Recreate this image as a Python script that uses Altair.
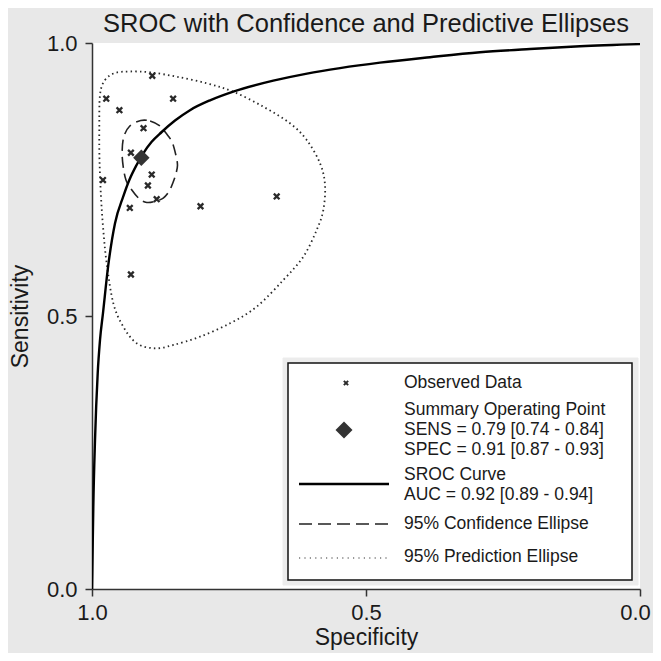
import altair as alt
import pandas as pd

title_text = "SROC with Confidence and Predictive Ellipses"
x_title = "Specificity"
y_title = "Sensitivity"
tick_values = [1.0, 0.5, 0.0]

# Observed studies
obs_spec = [0.890, 0.974, 0.852, 0.950, 0.906, 0.929, 0.980, 0.891, 0.898, 0.882, 0.931, 0.802, 0.663, 0.929]
obs_sens = [0.940, 0.898, 0.898, 0.877, 0.844, 0.799, 0.749, 0.759, 0.739, 0.714, 0.698, 0.701, 0.719, 0.576]

# Summary operating point
sum_spec = [0.91]
sum_sens = [0.79]

# SROC curve
sroc_spec = [1.0000, 0.9995, 0.9976, 0.9945, 0.9896, 0.9854, 0.9800, 0.9703, 0.9580, 0.9429,
             0.9319, 0.9184, 0.9064, 0.8911, 0.8728, 0.8485, 0.8212, 0.7847, 0.7422, 0.6692,
             0.6077, 0.5474, 0.4745, 0.3832, 0.2920, 0.2007, 0.1095, 0.0000]
sroc_sens = [0.000, 0.029, 0.151, 0.273, 0.395, 0.456, 0.505, 0.593, 0.670, 0.719,
             0.749, 0.777, 0.798, 0.819, 0.837, 0.858, 0.877, 0.895, 0.911, 0.931,
             0.944, 0.954, 0.964, 0.974, 0.983, 0.989, 0.994, 0.998]

# 95% confidence ellipse
conf_spec = [0.911, 0.894, 0.876, 0.865, 0.854, 0.847, 0.844, 0.847, 0.852, 0.859,
             0.870, 0.885, 0.900, 0.914, 0.929, 0.938, 0.943, 0.945, 0.942, 0.931]
conf_sens = [0.858, 0.857, 0.848, 0.835, 0.819, 0.795, 0.776, 0.760, 0.745, 0.729,
             0.716, 0.710, 0.708, 0.715, 0.733, 0.749, 0.773, 0.800, 0.828, 0.848]

# 95% prediction ellipse
pred_spec = [0.9854, 0.9763, 0.9580, 0.9307, 0.8942, 0.8454, 0.7907, 0.7422, 0.6874, 0.6387,
             0.6082, 0.5839, 0.5748, 0.5779, 0.5900, 0.6144, 0.6509, 0.6995, 0.7482, 0.8029,
             0.8516, 0.8850, 0.9184, 0.9429, 0.9611, 0.9732, 0.9794, 0.9836, 0.9863, 0.9867]
pred_sens = [0.9048, 0.9322, 0.9451, 0.9478, 0.9463, 0.9383, 0.9262, 0.9108, 0.8833, 0.8529,
             0.8223, 0.7797, 0.7399, 0.6941, 0.6575, 0.6086, 0.5659, 0.5170, 0.4866, 0.4621,
             0.4469, 0.4408, 0.4500, 0.4804, 0.5233, 0.5965, 0.6575, 0.7185, 0.7857, 0.8407]

legend_labels = [
    "Observed Data",
    "Summary Operating Point",
    "SENS = 0.79 [0.74 - 0.84]",
    "SPEC = 0.91 [0.87 - 0.93]",
    "SROC Curve",
    "AUC = 0.92 [0.89 - 0.94]",
    "95% Confidence Ellipse",
    "95% Prediction Ellipse",
]

FONT = "Liberation Sans"
INK = "#1a1a1a"
CROSS = "M -1 -1 L 1 1 M -1 1 L 1 -1"


def frame(s, t):
    return pd.DataFrame({"spec": s, "sens": t, "i": list(range(len(s)))})


x_enc = alt.X("spec:Q",
              scale=alt.Scale(domain=[1, 0], nice=False, zero=False),
              axis=alt.Axis(values=tick_values, format=".1f", title=x_title, grid=False,
                            labelFlush=False, labelOverlap=False, tickSize=7,
                            labelPadding=6, titlePadding=3,
                            labelOffset={"condition": {"test": "datum.value === 0", "value": -5},
                                         "value": 0}))
y_enc = alt.Y("sens:Q",
              scale=alt.Scale(domain=[0, 1], nice=False, zero=False),
              axis=alt.Axis(values=tick_values, format=".1f", title=y_title, grid=False,
                            labelFlush=False, labelOverlap=False, tickSize=7,
                            labelPadding=8, titlePadding=14))
order_enc = alt.Order("i:Q")

pred = alt.Chart(frame(pred_spec, pred_sens)).mark_line(
    interpolate="cardinal-closed", color="#2a2a2a", strokeWidth=1.8,
    strokeDash=[1.5, 3.2], clip=True
).encode(x=x_enc, y=y_enc, order=order_enc)

conf = alt.Chart(frame(conf_spec, conf_sens)).mark_line(
    interpolate="cardinal-closed", color="#222222", strokeWidth=1.6,
    strokeDash=[11, 6], clip=True
).encode(x=x_enc, y=y_enc, order=order_enc)

sroc = alt.Chart(frame(sroc_spec, sroc_sens)).mark_line(
    interpolate="monotone", color="#000000", strokeWidth=2.4, clip=True
).encode(x=x_enc, y=y_enc, order=order_enc)

obs = alt.Chart(frame(obs_spec, obs_sens)).mark_point(
    shape=CROSS, size=32, strokeWidth=2.3, color="#2a2a2a", filled=False, opacity=1
).encode(x=x_enc, y=y_enc)

summ = alt.Chart(frame(sum_spec, sum_sens)).mark_point(
    shape="diamond", size=270, filled=True, color="#333333", opacity=1
).encode(x=x_enc, y=y_enc)

one = pd.DataFrame({"k": [0]})

title_mark = alt.Chart(one).mark_text(
    align="center", baseline="alphabetic", fontSize=25.5, font=FONT, color=INK,
    text=title_text
).encode(x=alt.value(274), y=alt.value(-11))

legend_band = alt.Chart(one).mark_rect(fill="#ececec", stroke="#ececec").encode(
    x=alt.value(191), x2=alt.value(546), y=alt.value(315), y2=alt.value(542))
legend_box = alt.Chart(one).mark_rect(fill="white", stroke="#111111", strokeWidth=1.5).encode(
    x=alt.value(196), x2=alt.value(540), y=alt.value(320), y2=alt.value(537))

leg_cross = alt.Chart(one).mark_point(
    shape=CROSS, size=18, strokeWidth=2, color="#2a2a2a", filled=False, opacity=1
).encode(x=alt.value(254), y=alt.value(340))
leg_diamond = alt.Chart(one).mark_point(
    shape="diamond", size=290, filled=True, color="#333333", opacity=1
).encode(x=alt.value(252), y=alt.value(387))
leg_solid = alt.Chart(one).mark_rule(color="#000000", strokeWidth=2.4).encode(
    x=alt.value(207), x2=alt.value(297), y=alt.value(441))
leg_dash = alt.Chart(one).mark_rule(color="#222222", strokeWidth=1.6, strokeDash=[13, 6]).encode(
    x=alt.value(207), x2=alt.value(297), y=alt.value(481))
leg_dot = alt.Chart(one).mark_rule(color="#333333", strokeWidth=1.2, strokeDash=[1.2, 4.2]).encode(
    x=alt.value(207), x2=alt.value(297), y=alt.value(515))

text_y = [340, 367.4, 387, 406.6, 432, 452, 481, 514]
leg_texts = [
    alt.Chart(one).mark_text(align="left", baseline="middle", fontSize=17.5, font=FONT,
                             color=INK, text=lab).encode(x=alt.value(312), y=alt.value(yy))
    for lab, yy in zip(legend_labels, text_y)
]

chart = alt.layer(
    pred, conf, sroc, obs, summ, title_mark,
    legend_band, legend_box, leg_cross, leg_diamond, leg_solid, leg_dash, leg_dot,
    *leg_texts
).properties(
    width=548, height=546,
    autosize=alt.AutoSizeParams(type="none"),
    padding={"left": 84, "top": 35, "right": 13, "bottom": 64},
).configure(
    background="#e8e8e8", font=FONT
).configure_view(
    fill="white", strokeWidth=0
).configure_axis(
    domainColor="#333333", domainWidth=1.5, tickColor="#333333", tickWidth=1.5,
    labelFontSize=22, labelColor=INK, labelFont=FONT,
    titleFontSize=23, titleColor=INK, titleFont=FONT, titleFontWeight="normal"
)

chart.save("out.html", embed_options={"renderer": "svg", "actions": False})
